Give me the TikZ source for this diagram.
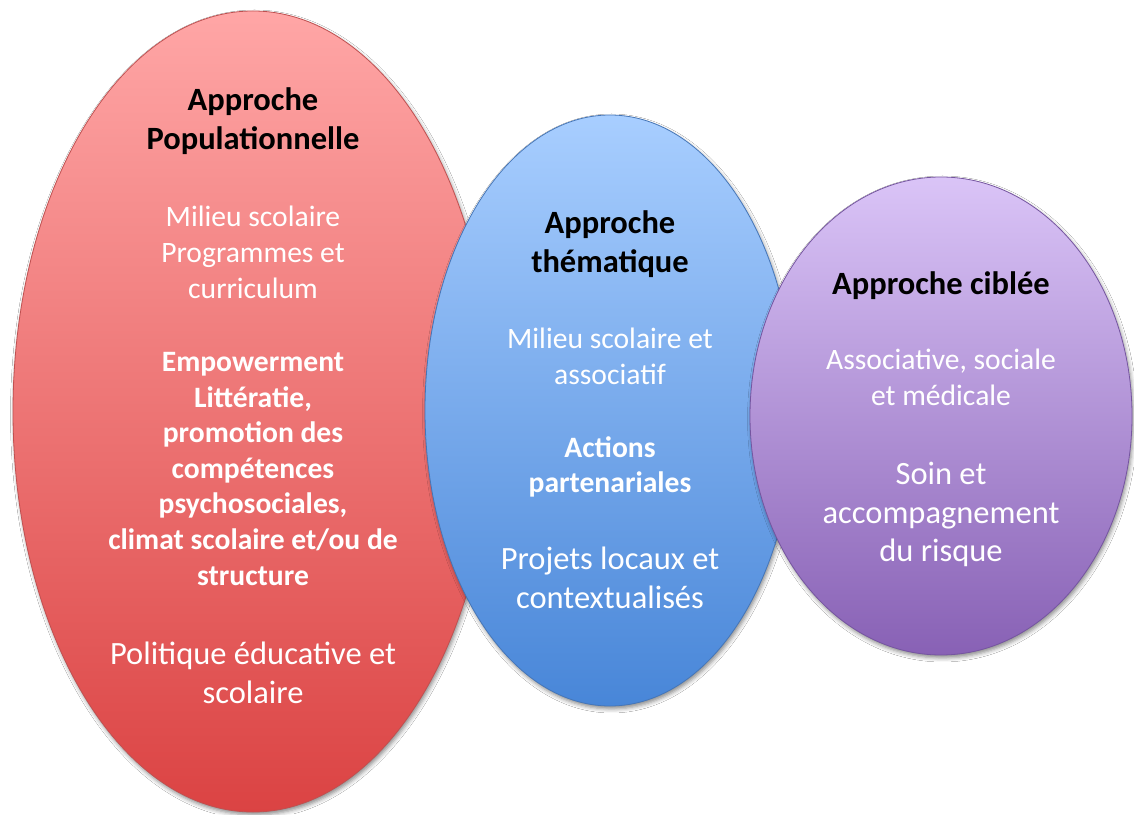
\documentclass[tikz,border=0pt]{standalone}
\usepackage{fontspec}
\setmainfont{Carlito}
\usetikzlibrary{shapes.geometric,shadows.blur}
\definecolor{redtop}{HTML}{FFA6A6}
\definecolor{redbot}{HTML}{DB4343}
\definecolor{redline}{HTML}{C05050}
\definecolor{bluetop}{HTML}{A8CEFF}
\definecolor{bluebot}{HTML}{4886D8}
\definecolor{blueline}{HTML}{4576B8}
\definecolor{purptop}{HTML}{DAC4F7}
\definecolor{purpbot}{HTML}{8861B5}
\definecolor{purpline}{HTML}{7555A0}
\begin{document}
\begin{tikzpicture}[x=1pt,y=1pt,
  bubble/.style={ellipse, inner sep=0pt, line width=0.8pt,
    blur shadow={shadow xshift=1.5pt, shadow yshift=-3pt, shadow blur radius=4pt, shadow opacity=45}},
  title/.style={align=center, anchor=base, inner sep=0pt, text=black,
    font=\fontsize{32.5}{39.5}\selectfont\bfseries},
  small/.style={align=center, anchor=base, inner sep=0pt, text=white,
    font=\fontsize{29.6}{36}\selectfont},
  smallbold/.style={align=center, anchor=base, inner sep=0pt, text=white,
    font=\fontsize{29.6}{35.5}\selectfont\bfseries},
  large/.style={align=center, anchor=base, inner sep=0pt, text=white,
    font=\fontsize{32.5}{38.5}\selectfont}]
\fill[white] (0,0) rectangle (1134,814);
\useasboundingbox (0,0) rectangle (1134,814);

\node[bubble, minimum width=480pt, minimum height=801pt, top color=redtop, bottom color=redbot, draw=redline] (red) at (253,402.5) {};
\node[bubble, minimum width=370pt, minimum height=591pt, top color=bluetop, bottom color=bluebot, draw=blueline] (blue) at (610,403.5) {};
\node[bubble, minimum width=382pt, minimum height=478pt, top color=purptop, bottom color=purpbot, draw=purpline] (purple) at (941,398) {};

% red texts (anchor=base is the baseline of the last line)
\node[title] (r1) at (253,664) {Approche\\Populationnelle};
\node[small] (r2) at (253,515) {Milieu scolaire\\Programmes et\\curriculum};
\node[smallbold] (r3) at (253,229) {Empowerment\\Littératie,\\promotion des\\compétences\\psychosociales,\\climat scolaire et/ou de\\structure};
\node[large] (r4) at (253,111) {Politique éducative et\\scolaire};

% blue texts
\node[title] (b1) at (610,541) {Approche\\thématique};
\node[small] (b2) at (610,429) {Milieu scolaire et\\associatif};
\node[smallbold] (b3) at (610,321) {Actions\\partenariales};
\node[large] (b4) at (610,206) {Projets locaux et\\contextualisés};

% purple texts
\node[title] (p1) at (941,519) {Approche ciblée};
\node[small] (p2) at (941,408) {Associative, sociale\\et médicale};
\node[large] (p3) at (941,252) {Soin et\\accompagnement\\du risque};
\end{tikzpicture}
\end{document}
